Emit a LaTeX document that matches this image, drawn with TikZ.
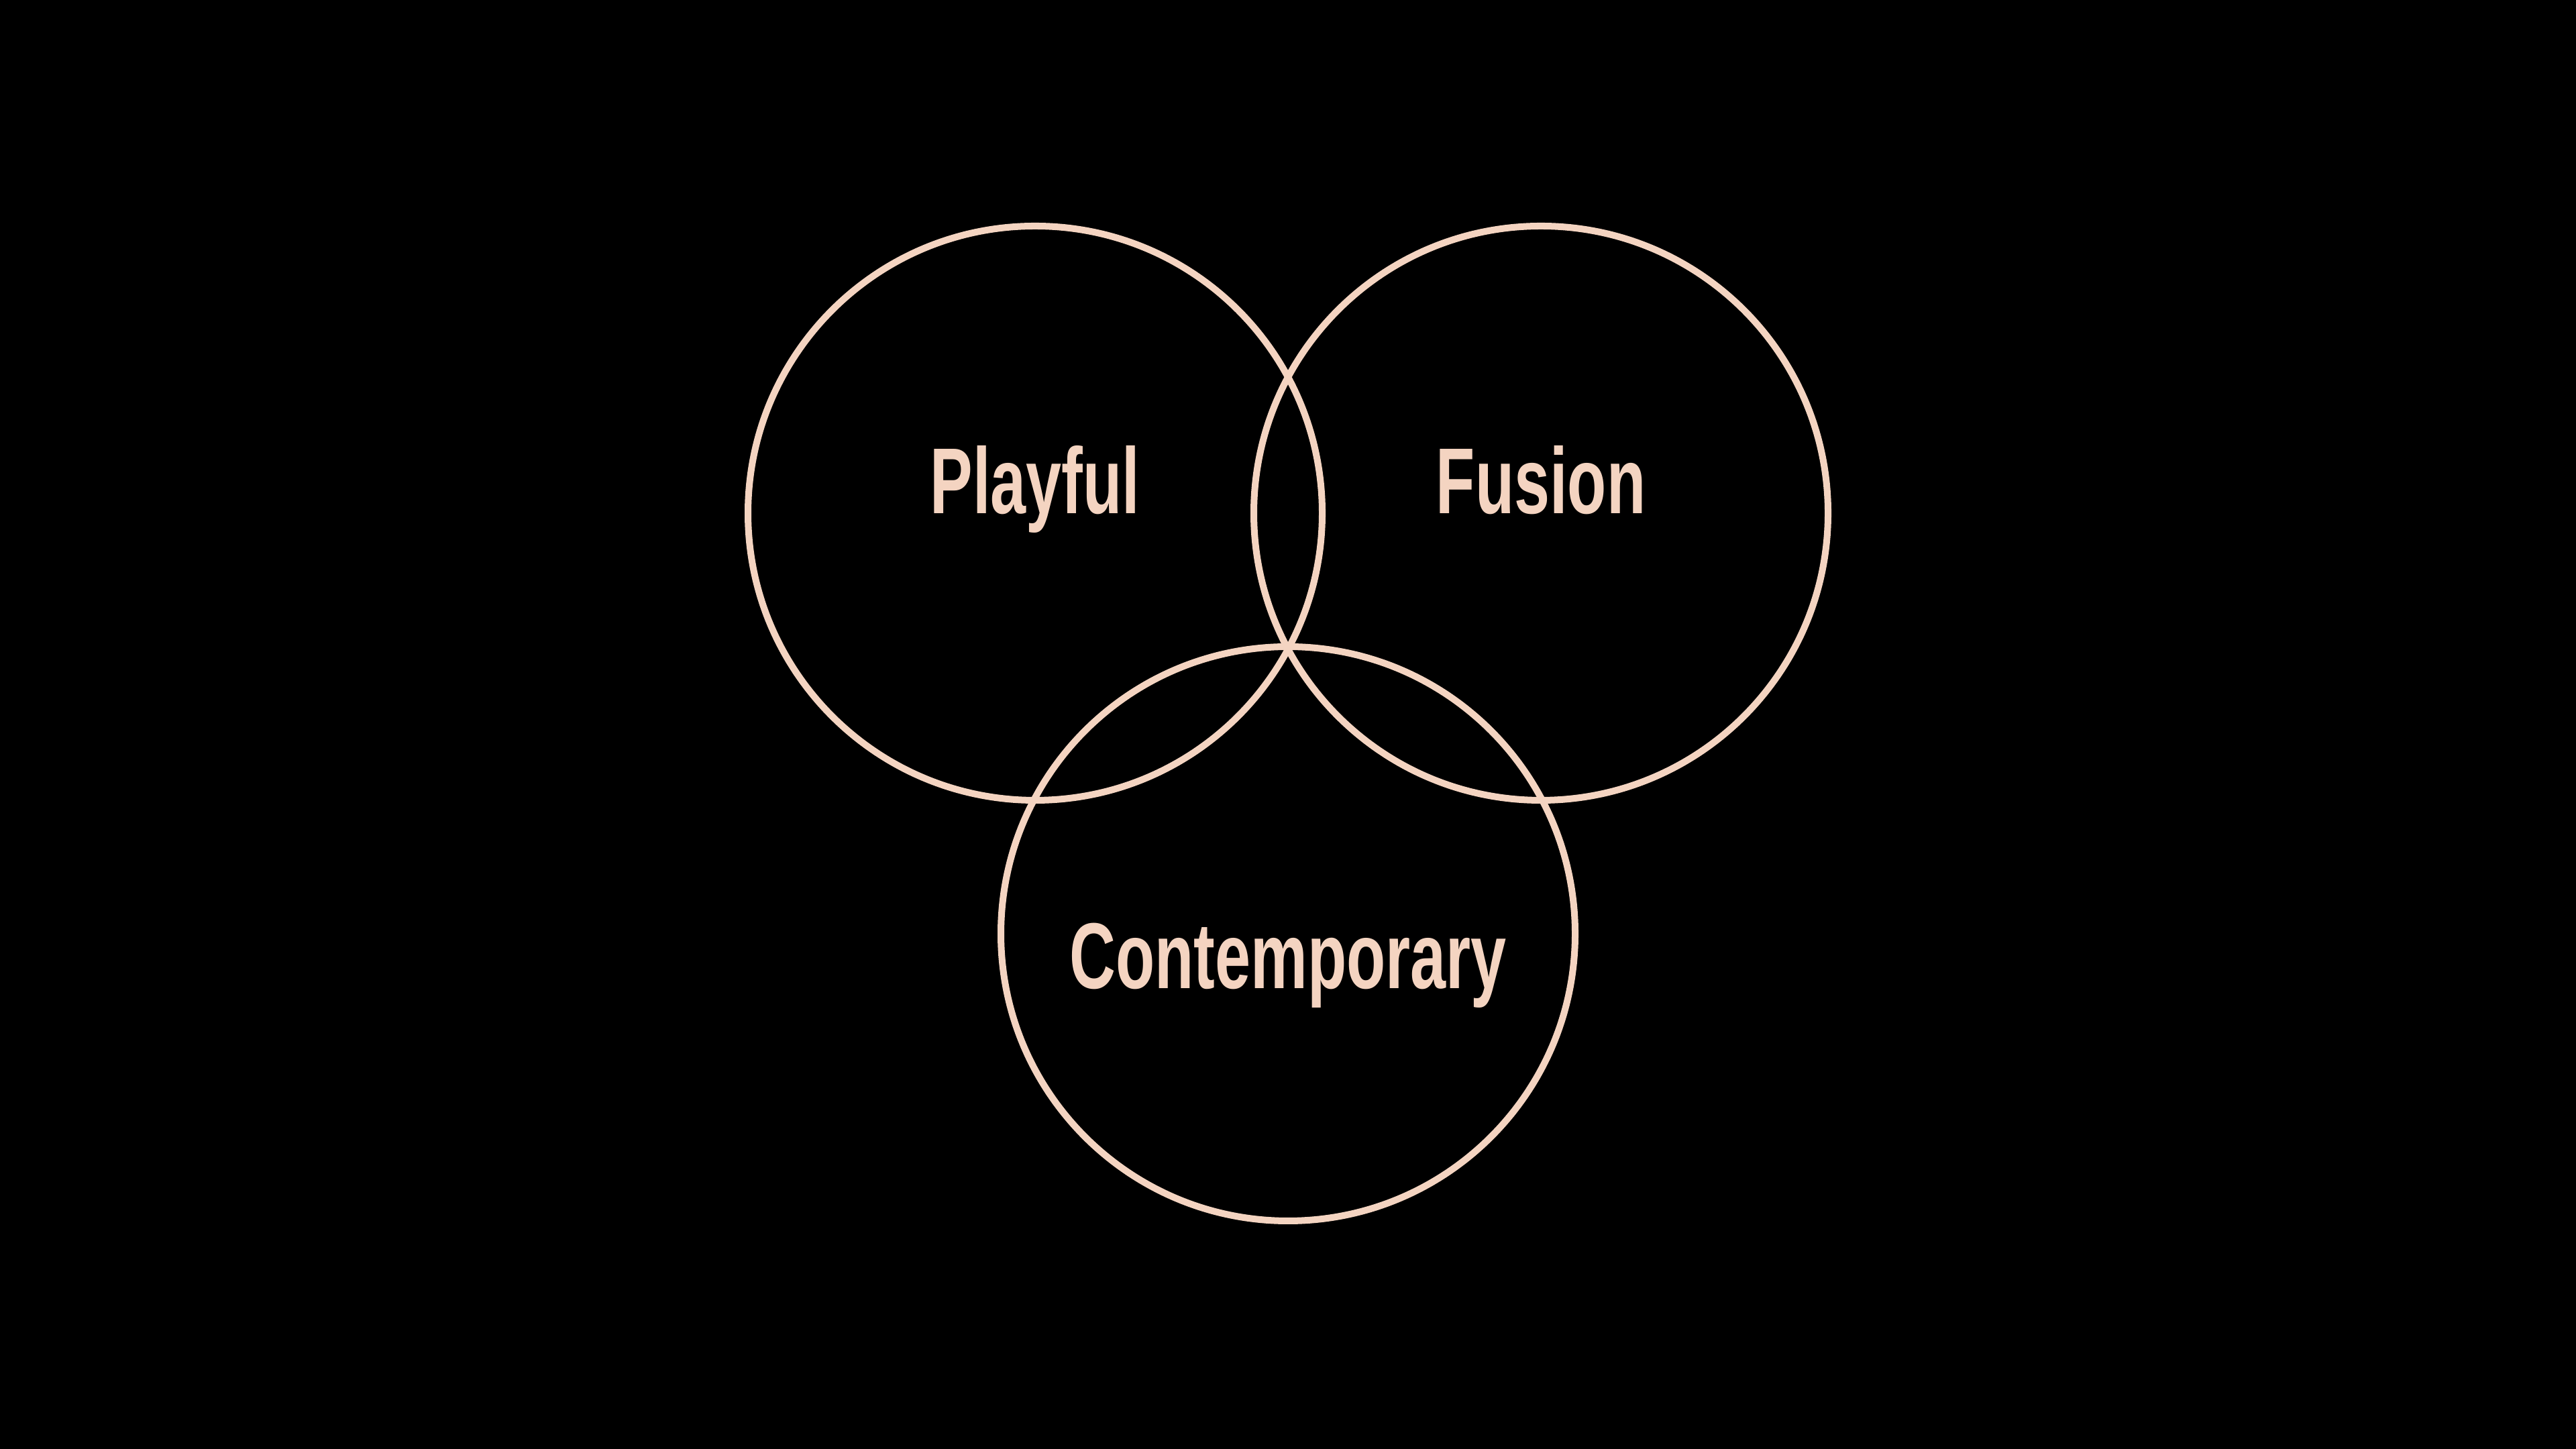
\documentclass[tikz,border=0pt]{standalone}
\usepackage{fontspec}
\setmainfont{Liberation Sans}[FakeStretch=0.683]
\usetikzlibrary{calc}
\definecolor{peach}{RGB}{244,212,193}

\begin{document}
\begin{tikzpicture}[ring/.style={draw=peach, line width=2.85pt},
    label/.style={text=peach, font=\fontsize{39.7}{48}\selectfont\bfseries, inner sep=0pt, anchor=base}]
  \fill[black] (0, 0) rectangle (38.4, 21.6);
  \useasboundingbox (0, 0) rectangle (38.4, 21.6);
  \def\radius{4.28}
  \coordinate (P) at (15.43, 13.95);
  \coordinate (F) at (22.97, 13.95);
  \coordinate (C) at (19.20, 7.68);
  \draw[ring] (P) circle(\radius);
  \draw[ring] (F) circle(\radius);
  \draw[ring] (C) circle(\radius);
  \node[label] (playful) at ($(P) + (0, -0.01)$) {Playful};
  \node[label] (fusion) at ($(F) + (0, -0.01)$) {Fusion};
  \node[label] (contemporary) at ($(C) + (0, -0.82)$) {Contemporary};
\end{tikzpicture}
\end{document}
